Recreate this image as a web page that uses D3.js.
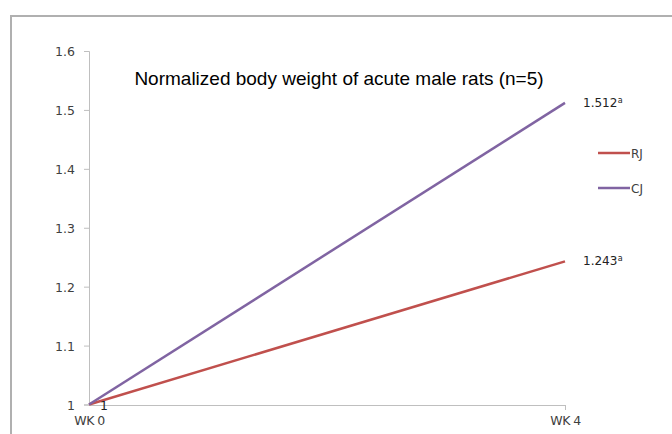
<!DOCTYPE html>
<html>
<head>
<meta charset="utf-8">
<script src="https://cdn.jsdelivr.net/npm/d3@7"></script>
<style>
  body { margin: 0; background: #fff; }
  svg { display: block; font-family: "Liberation Sans", Arial, sans-serif; }
</style>
</head>
<body>
<svg id="chart" width="672" height="434"></svg>
<script>
// Data
const weeks = ['WK 0', 'WK 4'];
const rjValues = [1, 1.243];
const cjValues = [1, 1.512];
const yTicks = [1, 1.1, 1.2, 1.3, 1.4, 1.5, 1.6];
const seriesNames = ['RJ', 'CJ'];
const endMarks = ['a', 'a'];

const colors = { RJ: '#c0504d', CJ: '#8064a2' };

const svg = d3.select('#chart');
const width = 672, height = 434;
const margin = { top: 51, right: 106, bottom: 29, left: 89 };

// Outer frame (chart area border, clipped by the window)
svg.append('path')
  .attr('d', `M11,${height + 5} V16 H${width + 5}`)
  .attr('fill', 'none')
  .attr('stroke', '#b0b0b0')
  .attr('stroke-width', 2);

const innerWidth = width - margin.left - margin.right;
const innerHeight = height - margin.top - margin.bottom;

const chart = svg.append('g')
  .attr('transform', `translate(${margin.left}, ${margin.top})`);

const xScale = d3.scalePoint()
  .domain(weeks)
  .range([0, innerWidth - 1]);

const yScale = d3.scaleLinear()
  .domain([1, 1.6])
  .range([innerHeight - 0.5, 0]);

const tickFont = '"DejaVu Sans", sans-serif';

// Y axis
const yAxis = chart.append('g')
  .call(d3.axisLeft(yScale).tickValues(yTicks).tickSize(5).tickPadding(9)
    .tickFormat(d => d3.format('')(+d.toFixed(1))));
yAxis.attr('font-size', null).attr('font-family', null);
yAxis.selectAll('.domain, .tick line').attr('stroke', '#bfbfbf');
yAxis.selectAll('text')
  .attr('dy', null)
  .attr('y', 4.5)
  .attr('fill', '#404040')
  .style('font-size', '12.5px')
  .style('font-family', tickFont);

// X axis
const xAxis = chart.append('g')
  .attr('transform', `translate(0, ${innerHeight})`)
  .call(d3.axisBottom(xScale).tickSize(5).tickSizeOuter(0).tickPadding(6));
xAxis.attr('font-size', null).attr('font-family', null);
xAxis.selectAll('.domain, .tick line').attr('stroke', '#bfbfbf');
xAxis.selectAll('.tick').filter((d, i) => i === 0).select('line').remove();
xAxis.selectAll('text')
  .attr('dy', null)
  .attr('y', 20)
  .attr('fill', '#404040')
  .style('font-size', '12.5px')
  .style('letter-spacing', '-0.5px')
  .style('font-family', tickFont);

// Title
svg.append('text')
  .attr('x', 339)
  .attr('y', 85)
  .attr('text-anchor', 'middle')
  .style('font-size', '19px')
  .attr('fill', '#000')
  .text('Normalized body weight of acute male rats (n=5)');

// Lines
const line = d3.line()
  .x((d, i) => xScale(weeks[i]))
  .y(d => yScale(d));

const series = [
  { name: 'RJ', values: rjValues, mark: endMarks[0] },
  { name: 'CJ', values: cjValues, mark: endMarks[1] }
];

series.forEach(s => {
  chart.append('path')
    .datum(s.values)
    .attr('fill', 'none')
    .attr('stroke', colors[s.name])
    .attr('stroke-width', 2.5)
    .attr('d', line);

  const lx = xScale(weeks[1]) + 18;
  const ly = yScale(s.values[1]) + 4;
  const lbl = chart.append('text')
    .attr('x', lx)
    .attr('y', ly)
    .style('font-size', '12px')
    .style('font-family', tickFont)
    .attr('fill', '#222')
    .text(d3.format('.3f')(s.values[1]));

  // superscript mark
  chart.append('text')
    .attr('x', lx + lbl.node().getComputedTextLength() + 0.5)
    .attr('y', ly - 4)
    .style('font-size', '8px')
    .style('font-family', tickFont)
    .attr('fill', '#222')
    .text(s.mark);
});

// Data label at first point
chart.append('text')
  .attr('x', xScale(weeks[0]) + 11)
  .attr('y', yScale(rjValues[0]) + 5)
  .style('font-size', '12.5px')
  .style('font-family', tickFont)
  .attr('fill', '#222')
  .text(d3.format('')(rjValues[0]));

// Legend
const legend = svg.append('g')
  .attr('transform', 'translate(598, 153)');

const legendItems = legend.selectAll('.legend-item')
  .data(seriesNames)
  .enter()
  .append('g')
  .attr('class', 'legend-item')
  .attr('transform', (d, i) => `translate(0, ${i * 35})`);

legendItems.append('line')
  .attr('x1', 0)
  .attr('x2', 32)
  .attr('stroke', d => colors[d])
  .attr('stroke-width', 2.5);

legendItems.append('text')
  .attr('x', 33)
  .attr('y', 4.5)
  .style('font-size', '12px')
  .style('font-family', tickFont)
  .attr('fill', '#404040')
  .text(d => d);
</script>
</body>
</html>
